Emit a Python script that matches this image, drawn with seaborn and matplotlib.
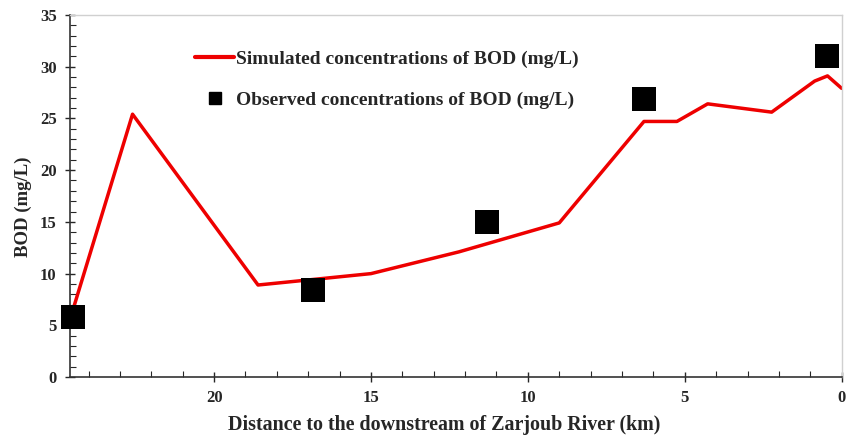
import matplotlib
matplotlib.use("Agg")
import matplotlib.pyplot as plt
from matplotlib.ticker import MultipleLocator
from matplotlib.lines import Line2D
import seaborn as sns
import pandas as pd

# simulated BOD profile (km to downstream, mg/L)
sim_dist = [24.5, 22.6, 18.6, 15.0, 12.2, 9.0, 6.3, 5.25, 4.27, 2.23, 0.86, 0.45, 0.0]
sim_bod = [6.5, 25.4, 8.9, 10.0, 12.1, 14.9, 24.7, 24.7, 26.4, 25.6, 28.6, 29.1, 27.9]

# observed BOD
obs_dist = [24.5, 16.85, 11.3, 6.3, 0.48]
obs_bod = [5.8, 8.4, 15.0, 26.9, 31.0]

sim_df = pd.DataFrame({"dist": sim_dist, "bod": sim_bod})
obs_df = pd.DataFrame({"dist": obs_dist, "bod": obs_bod})

sns.set_style("ticks")
plt.rcParams["font.family"] = ["Liberation Serif", "DejaVu Serif"]
plt.rcParams["font.weight"] = "bold"

fig = plt.figure(figsize=(8.51, 4.36), dpi=100)
ax = fig.add_axes([0.082, 0.135, 0.907, 0.831])

sns.lineplot(data=sim_df, x="dist", y="bod", color="#ee0000", linewidth=2.5,
             sort=False, ax=ax)
sns.scatterplot(data=obs_df, x="dist", y="bod", marker="s", color="black",
                s=310, edgecolor="black", linewidth=0, clip_on=False, zorder=5, ax=ax)

ax.set_xlim(24.6, 0)
ax.set_ylim(0, 35)
ax.xaxis.set_major_locator(MultipleLocator(5))
ax.xaxis.set_minor_locator(MultipleLocator(1))
ax.yaxis.set_major_locator(MultipleLocator(5))
ax.yaxis.set_minor_locator(MultipleLocator(1))
ax.tick_params(which="major", direction="inout", length=7, width=1, labelsize=12, pad=6)
ax.tick_params(which="minor", direction="in", length=4, width=0.8)
for lab in ax.get_xticklabels() + ax.get_yticklabels():
    lab.set_fontweight("bold")

for side in ["left", "bottom"]:
    ax.spines[side].set_color("#333333")
    ax.spines[side].set_linewidth(1.2)
for side in ["top", "right"]:
    ax.spines[side].set_visible(True)
    ax.spines[side].set_color("#d0d0d0")
    ax.spines[side].set_linewidth(1)

ax.set_xlabel("Distance to the downstream of Zarjoub River (km)", fontsize=14.4,
              fontweight="bold")
ax.xaxis.set_label_coords(0.485, -0.105)
ax.set_ylabel("BOD (mg/L)", fontsize=13.5, fontweight="bold")
ax.yaxis.set_label_coords(-0.049, 0.47)

handles = [
    Line2D([], [], color="#ee0000", linewidth=3),
    Line2D([], [], color="black", marker="s", linestyle="none", markersize=9),
]
labels = ["Simulated concentrations of BOD (mg/L)",
          "Observed concentrations of BOD (mg/L)"]
ax.legend(handles, labels, loc="upper left", bbox_to_anchor=(0.14, 0.95), frameon=False,
          prop={"size": 14, "weight": "bold"}, handlelength=2.0, handletextpad=0.1,
          labelspacing=1.2)

fig.savefig("out.png", dpi=100)
